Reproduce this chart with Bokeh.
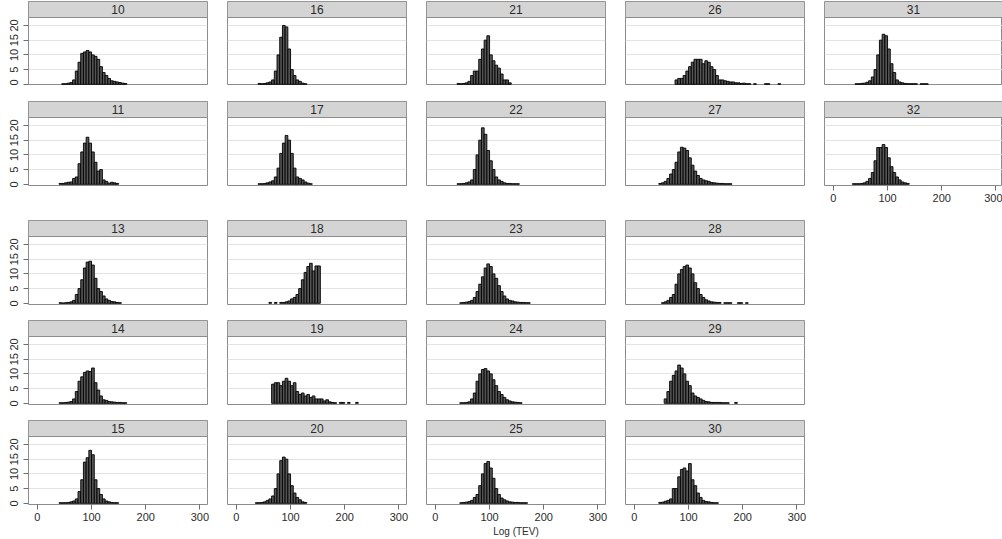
from bokeh.plotting import figure
from bokeh.layouts import column, row
from bokeh.models import Range1d, FixedTicker, Title, ColumnDataSource
from bokeh.embed import file_html
from bokeh.resources import INLINE
from bokeh.core.properties import value

# ---------------- data (percent of total, bin width 5) ----------------
BIN_WIDTH = 5
X_TICKS = [0, 100, 200, 300]
Y_TICKS = [0, 5, 10, 15, 20]
Y_GRID = [5, 10, 15, 20]
X_LABEL = "Log (TEV)"

s10 = 45
h10 = [0.2, 0.2, 0.4, 0.6, 1.5, 4.5, 7.5, 10.5, 11, 11.5, 11, 10, 9.5, 8.5, 6, 4, 3, 2, 1.2, 1, 0.8, 0.6, 0.4, 0.3]
s11 = 40
h11 = [0.3, 0.3, 0.5, 0.7, 0.8, 2, 2.5, 7, 11, 14, 16, 14, 11, 7.5, 4.5, 5, 1.5, 1, 0.4, 0.7, 0.5, 0.3]
s13 = 40
h13 = [0.2, 0.1, 0.2, 0.3, 0.5, 1, 3, 5, 8, 12, 14, 14.3, 13, 8.5, 5, 4, 2.5, 1.5, 1, 0.6, 0.5, 0.3, 0.2]
s14 = 40
h14 = [0.2, 0.2, 0.3, 0.4, 0.6, 1.5, 4, 7.5, 9, 10.5, 11, 10.8, 12, 7, 4.5, 2.5, 1.2, 1, 0.6, 0.5, 0.4, 0.3, 0.3, 0.2, 0.2]
s15 = 40
h15 = [0.2, 0.2, 0.2, 0.3, 0.5, 0.8, 1.5, 4, 8, 14, 15.5, 18, 16.5, 8, 5, 3, 1.5, 0.8, 0.5, 0.3, 0.2, 0.2]
s16 = 40
h16 = [0.3, 0.2, 0.3, 0.5, 0.8, 1.5, 4.5, 10, 16, 20, 19.5, 12, 5, 3, 1.5, 1, 0.4, 0.2]
s17 = 40
h17 = [0.2, 0.2, 0.3, 0.5, 0.8, 1.2, 2.5, 5.5, 10.5, 14, 16.6, 15, 10.5, 5.5, 2.5, 2, 1.5, 0.8, 0.4, 0.2]
s18 = 60
h18 = [0.3, 0, 0.3, 0, 0.3, 0.3, 0.5, 0.8, 1.5, 2, 3, 5, 8, 10.5, 12.5, 13.6, 11, 12.7, 12.7]
s19 = 65
h19 = [6.5, 7, 7, 6, 7.5, 8.5, 7.5, 6, 7, 4, 3, 3.5, 2.5, 3, 2, 2.5, 1.5, 1.5, 1.5, 0.8, 1.2, 0.5, 0.3, 0.2, 0, 0.3, 0.3, 0, 0.3, 0, 0, 0.3]
s20 = 35
h20 = [0.2, 0.2, 0.3, 0.5, 1, 1.5, 2.5, 5, 10, 14.5, 15.7, 15, 10, 6, 3.5, 2, 1.2, 0.5, 0.3]
s21 = 40
h21 = [0.3, 0.2, 0.3, 0.5, 1, 3, 4.5, 4.5, 8.5, 12, 15, 16.5, 10, 8, 6.5, 5.5, 3.5, 1.5, 1.5, 0.5]
s22 = 40
h22 = [0.2, 0.2, 0.3, 0.5, 0.8, 1.5, 5, 10, 15, 19.2, 17, 11.5, 8, 5, 2.5, 1.5, 1, 0.5, 0.3, 0.3, 0.2, 0.2, 0.2]
s23 = 45
h23 = [0.2, 0.3, 0.4, 0.6, 1, 2, 4, 6.5, 9, 12, 13.4, 12.5, 10, 8.5, 6, 4, 2.5, 1.5, 1, 0.8, 0.5, 0.4, 0.3, 0.3, 0.2, 0.2]
s24 = 45
h24 = [0.2, 0.2, 0.3, 0.5, 1.5, 3.5, 7.5, 10, 11.5, 11.8, 11, 10, 8, 6, 4, 3, 2, 1.2, 0.8, 0.5, 0.4, 0.3, 0.2]
s25 = 45
h25 = [0.2, 0.3, 0.4, 0.6, 1, 2, 3, 6, 10, 13.5, 14.2, 12, 8.5, 5, 3, 1.8, 1.2, 0.8, 0.5, 0.4, 0.3, 0.3, 0.2, 0.2, 0.2]
s26 = 75
h26 = [1.5, 2, 2, 3, 4.5, 6, 7.5, 8.5, 8.5, 8.5, 7, 8, 7.5, 6, 5, 3, 1.5, 1.5, 1.2, 1, 0.8, 0.8, 0.5, 0.5, 0.3, 0.4,
       0.2, 0.2, 0, 0.2, 0, 0, 0, 0.2, 0.2, 0, 0, 0, 0.2]
s27 = 45
h27 = [0.3, 0.5, 1, 2, 3.5, 5, 7.5, 11, 12.6, 12.3, 11.5, 9, 6.5, 4.5, 3, 2, 1.5, 1.2, 1, 0.6, 0.5, 0.4, 0.3, 0.3, 0.2, 0.2, 0.2]
s28 = 50
h28 = [0.2, 0.5, 1, 2, 3, 6.5, 10, 11.5, 12.5, 13, 12, 10, 7, 5, 3, 2, 1.2, 0.8, 0.5, 0.4, 0.3, 0.3, 0, 0.2, 0.2, 0.2, 0, 0, 0.2, 0.2, 0, 0.2]
s29 = 55
h29 = [1.5, 4, 7.5, 9.5, 11, 13, 12, 10, 7.5, 6, 3.5, 2.5, 2, 1.5, 1, 0.6, 0.5, 0.3, 0.3, 0.3, 0.3, 0.2, 0.2, 0.2, 0, 0, 0.3]
s30 = 45
h30 = [0.3, 0.4, 0.7, 1, 1.5, 5, 5, 9, 11.5, 12, 11, 13.5, 8, 6, 3.5, 2, 1, 0.6, 0.5, 0.3, 0.2, 0.2]
s31 = 40
h31 = [0.2, 0.2, 0.3, 0.4, 0.7, 1.2, 2.5, 5, 10, 15, 17, 16.5, 12, 7, 4, 1.5, 0.8, 0.5, 0.3, 0.2, 0.2, 0.2, 0.2, 0, 0.2, 0.2, 0.2]
s32 = 35
h32 = [0.2, 0.2, 0.2, 0.3, 0.5, 1, 2, 4, 8, 12.5, 12.5, 13.5, 12.5, 9, 6, 4, 2.5, 1.5, 0.8, 0.5, 0.3]

LAYOUT_ROWS = [
    [("10", s10, h10), ("16", s16, h16), ("21", s21, h21), ("26", s26, h26), ("31", s31, h31)],
    [("11", s11, h11), ("17", s17, h17), ("22", s22, h22), ("27", s27, h27), ("32", s32, h32)],
    [("13", s13, h13), ("18", s18, h18), ("23", s23, h23), ("28", s28, h28)],
    [("14", s14, h14), ("19", s19, h19), ("24", s24, h24), ("29", s29, h29)],
    [("15", s15, h15), ("20", s20, h20), ("25", s25, h25), ("30", s30, h30)],
]

# ---------------- layout / style ----------------
X_LO, X_HI = -16.4, 314.0
Y_LO, Y_HI = -0.4, 22.7
FRAME_W = 179
FRAME_W_LAST = 178
PLOT_H = 68
STRIP_H = 16
LEFT_MARGIN = 28
GAP_HALF = 10
ROW_TOP = [1, 16, 0, 0, 0]
ROW_BOTTOM = [0, 35, 16, 16, 35]
PX_PER_X = FRAME_W / (X_HI - X_LO)
PX_PER_Y = PLOT_H / (Y_HI - Y_LO)
STRIP_TOP = Y_HI + STRIP_H / PX_PER_Y

FONT = "Liberation Sans"
BORDER = "#8c8c8c"
STRIP_FILL = "#d4d4d4"
GRID = "#e3e3e3"
BAR_FILL = "#555555"
BAR_LINE = "#000000"
TEXT = "#2b2b2b"
TICK = "#6e6e6e"

XLABEL_PANEL = "25"
XLABEL_OFFSET = -12       # horizontal shift of the x label from the panel centre


def make_panel(name, start, heights, col, rix):
    last = col == 4
    lb = LEFT_MARGIN if col == 0 else GAP_HALF
    rb = 0 if last else GAP_HALF
    fw = FRAME_W_LAST if last else FRAME_W
    x_hi = X_LO + fw / PX_PER_X
    show_x = rix == 4 or name == "32"
    show_y = col == 0
    p = figure(width=lb + fw + rb, height=ROW_TOP[rix] + PLOT_H + STRIP_H + ROW_BOTTOM[rix],
               x_range=Range1d(X_LO, x_hi), y_range=Range1d(Y_LO, STRIP_TOP),
               min_border_left=lb, min_border_right=rb,
               min_border_top=ROW_TOP[rix], min_border_bottom=ROW_BOTTOM[rix],
               x_axis_location="below" if show_x else None,
               y_axis_location="left" if show_y else None,
               toolbar_location=None, output_backend="svg", title=None,
               background_fill_color="white", border_fill_color="white",
               outline_line_color=BORDER, outline_line_width=1)
    p.xgrid.visible = False
    p.ygrid.ticker = FixedTicker(ticks=Y_GRID)
    p.ygrid.grid_line_color = GRID
    p.ygrid.grid_line_width = 1

    if show_x:
        ax = p.xaxis[0]
        ax.ticker = FixedTicker(ticks=X_TICKS)
        ax.axis_line_color = None
        ax.major_tick_in = 0
        ax.major_tick_out = 5
        ax.minor_tick_line_color = None
        ax.major_tick_line_color = TICK
        ax.major_label_standoff = 3
        ax.major_label_text_font = FONT
        ax.major_label_text_font_size = "11px"
        ax.major_label_text_color = TEXT
    if show_y:
        ay = p.yaxis[0]
        ay.ticker = FixedTicker(ticks=Y_TICKS)
        ay.axis_line_color = None
        ay.major_tick_in = 0
        ay.major_tick_out = 5
        ay.minor_tick_line_color = None
        ay.major_tick_line_color = TICK
        ay.major_label_standoff = 5
        ay.major_label_orientation = "vertical"
        ay.major_label_text_font = FONT
        ay.major_label_text_font_size = "11px"
        ay.major_label_text_color = TEXT

    lefts, rights, tops = [], [], []
    for i, h in enumerate(heights):
        if h > 0:
            lefts.append(start + i * BIN_WIDTH)
            rights.append(start + (i + 1) * BIN_WIDTH)
            tops.append(h)
    src = ColumnDataSource(dict(left=lefts, right=rights, top=tops, bottom=[0] * len(tops)))
    p.quad(left="left", right="right", top="top", bottom="bottom", source=src,
           fill_color=BAR_FILL, line_color=BAR_LINE, line_width=0.9)

    # strip
    p.quad(left=[X_LO], right=[x_hi], bottom=[Y_HI], top=[STRIP_TOP],
           fill_color=STRIP_FILL, line_color=BORDER, line_width=1)
    p.text(x=[(X_LO + x_hi) / 2], y=[(Y_HI + STRIP_TOP) / 2], text=[name],
           text_align="center", text_baseline="middle",
           text_font=value(FONT), text_font_size="12px", text_color=TEXT)

    if name == XLABEL_PANEL:
        t = Title(text=X_LABEL, align="center", offset=XLABEL_OFFSET, standoff=0,
                  text_font=FONT, text_font_size="10px", text_font_style="normal",
                  text_color=TEXT)
        p.add_layout(t, "below")
    return p


rows = []
for rix, panels in enumerate(LAYOUT_ROWS):
    figs = [make_panel(n, s, h, c, rix) for c, (n, s, h) in enumerate(panels)]
    rows.append(row(*figs, spacing=0))

layout = column(*rows, spacing=0)

open("out.html", "w").write(file_html(layout, INLINE))
